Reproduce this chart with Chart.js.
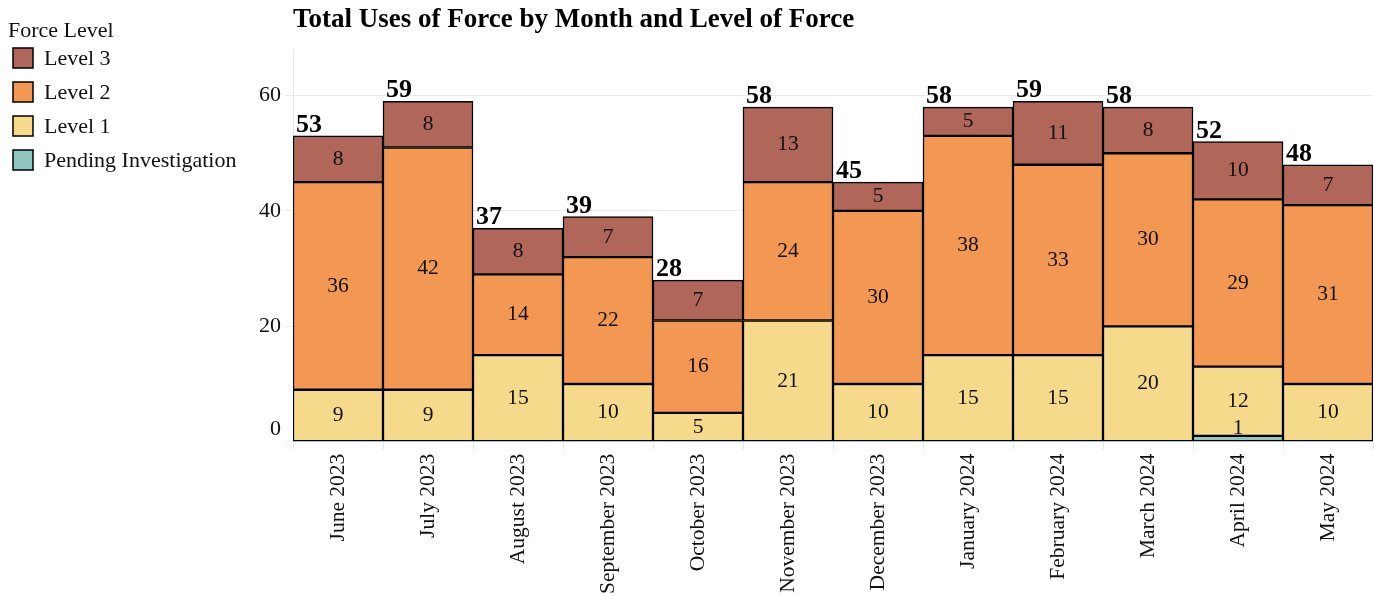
<!DOCTYPE html>
<html>
<head>
<meta charset="utf-8">
<script src="https://cdn.jsdelivr.net/npm/chart.js@4.4.1/dist/chart.umd.min.js"></script>
<style>
  html, body { margin: 0; padding: 0; background: #ffffff; }
  #wrap { width: 1374px; height: 596px; position: relative; }
</style>
</head>
<body>
<div id="wrap"><canvas id="c" width="1374" height="596"></canvas></div>
<script>
const months = ["June 2023", "July 2023", "August 2023", "September 2023", "October 2023", "November 2023",
  "December 2023", "January 2024", "February 2024", "March 2024", "April 2024", "May 2024"];
const pending = [0, 0, 0, 0, 0, 0, 0, 0, 0, 0, 1, 0];
const level1 = [9, 9, 15, 10, 5, 21, 10, 15, 15, 20, 12, 10];
const level2 = [36, 42, 14, 22, 16, 24, 30, 38, 33, 30, 29, 31];
const level3 = [8, 8, 8, 7, 7, 13, 5, 5, 11, 8, 10, 7];
const yTicks = [0, 20, 40, 60];

const FONT = "'Liberation Serif', 'Times New Roman', serif";
const colors = { pending: "#8fc7c0", l1: "#f5da8c", l2: "#f29852", l3: "#b0675a" };

function ds(label, data, color) {
  return {
    label, data,
    backgroundColor: color,
    borderColor: "#000000",
    borderWidth: ctx => (ctx.raw > 0 ? 1.5 : 0),
    borderSkipped: false,
    barPercentage: 1.0,
    categoryPercentage: 1.0,
    stack: "s"
  };
}

const labelsPlugin = {
  id: "segLabels",
  afterDatasetsDraw(chart) {
    const ctx = chart.ctx;
    ctx.save();
    ctx.fillStyle = "#111";
    ctx.textAlign = "center";
    ctx.textBaseline = "middle";
    ctx.font = "21.5px " + FONT;
    chart.data.datasets.forEach((d, di) => {
      const meta = chart.getDatasetMeta(di);
      meta.data.forEach((el, i) => {
        const v = d.data[i];
        if (!v) return;
        const h = Math.abs(el.base - el.y);
        let y = (el.y + el.base) / 2;
        if (h < 20) y = el.y - 8;
        ctx.fillText(String(v), el.x, y);
      });
    });
    // totals
    const topMeta = chart.getDatasetMeta(chart.data.datasets.length - 1);
    ctx.fillStyle = "#000";
    ctx.font = "bold 26px " + FONT;
    ctx.textAlign = "left";
    ctx.textBaseline = "alphabetic";
    topMeta.data.forEach((el, i) => {
      const total = chart.data.datasets.reduce((s, d) => s + (d.data[i] || 0), 0);
      ctx.fillText(String(total), el.x - el.width / 2 + 3, el.y - 4);
    });
    // zero tick label, drawn slightly raised as in the reference
    const ys = chart.scales.y;
    ctx.fillStyle = "#111";
    ctx.font = "22px " + FONT;
    ctx.textAlign = "right";
    ctx.textBaseline = "middle";
    ctx.fillText("0", ys.right - 12, ys.getPixelForValue(0) - 12);
    ctx.restore();
  }
};

const legendPlugin = {
  id: "sideLegend",
  afterDraw(chart) {
    const ctx = chart.ctx;
    ctx.save();
    ctx.fillStyle = "#111";
    ctx.textBaseline = "middle";
    ctx.textAlign = "left";
    ctx.font = "22px " + FONT;
    ctx.fillText("Force Level", 8, 31);
    const items = chart.data.datasets.slice().reverse();
    items.forEach((d, k) => {
      const top = 48 + 34 * k;
      ctx.fillStyle = d.backgroundColor;
      ctx.fillRect(13, top, 20, 20);
      ctx.strokeStyle = "#000";
      ctx.lineWidth = 1.5;
      ctx.strokeRect(13, top, 20, 20);
      ctx.fillStyle = "#111";
      ctx.font = "22px " + FONT;
      ctx.fillText(d.label, 44, top + 11);
    });
    ctx.restore();
  }
};

new Chart(document.getElementById("c"), {
  type: "bar",
  data: {
    labels: months,
    datasets: [
      ds("Pending Investigation", pending, colors.pending),
      ds("Level 1", level1, colors.l1),
      ds("Level 2", level2, colors.l2),
      ds("Level 3", level3, colors.l3)
    ]
  },
  plugins: [labelsPlugin, legendPlugin],
  options: {
    responsive: false,
    animation: false,
    layout: { padding: { left: 248, right: 1, top: 0, bottom: -2 } },
    plugins: {
      legend: { display: false },
      tooltip: { enabled: false },
      title: {
        display: true,
        text: "Total Uses of Force by Month and Level of Force",
        align: "start",
        fullSize: false,
        color: "#000",
        font: { family: FONT, size: 27, weight: "bold", lineHeight: 1.2 },
        padding: { top: 4, bottom: 13 }
      }
    },
    scales: {
      x: {
        stacked: true,
        grid: { drawOnChartArea: false, drawTicks: true, tickLength: 8, color: "#e6e6e6", offset: true },
        border: { display: true, color: "#e6e6e6" },
        ticks: {
          maxRotation: 90, minRotation: 90, padding: 4, color: "#111",
          font: { family: FONT, size: 21.5 }
        }
      },
      y: {
        stacked: true,
        min: 0, max: 68,
        afterBuildTicks: s => { s.ticks = yTicks.map(v => ({ value: v })); },
        afterFit: s => { s.width = 45; },
        grid: { color: "#ebebeb", tickLength: 8, lineWidth: 1 },
        border: { display: true, color: "#e6e6e6" },
        ticks: {
          padding: 4, color: "#111",
          font: { family: FONT, size: 22 },
          callback: v => (v === 0 ? "" : String(v))
        }
      }
    }
  }
});
</script>
</body>
</html>
